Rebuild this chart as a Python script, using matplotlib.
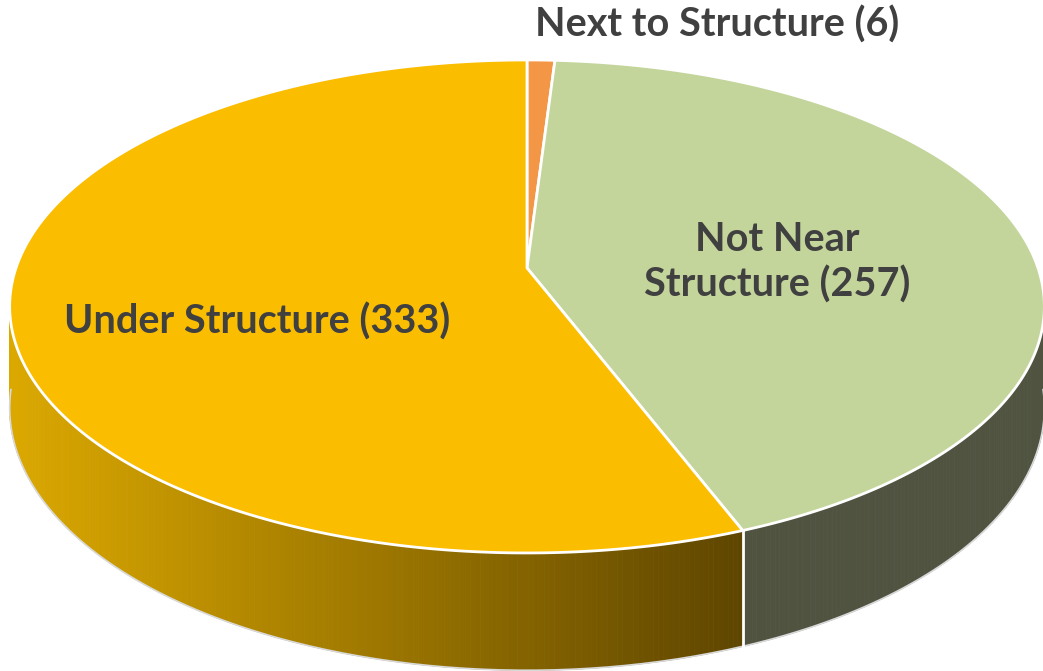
import numpy as np
import matplotlib.pyplot as plt
import matplotlib.colors as mcolors
from matplotlib.patches import Polygon

# datos del grafico
categorias = ["Next to Structure", "Not Near Structure", "Under Structure"]
valores = [6, 257, 333]
etiquetas = ["Next to Structure (6)", "Not Near\nStructure (257)", "Under Structure (333)"]
colores_top = ["#F39646", "#C3D59B", "#FABD00"]
# color de la pared: (izquierda, derecha) del degradado
colores_pared = [("#B86A2A", "#B86A2A"), ("#515541", "#4F5340"), ("#DBA800", "#5E4500")]

# geometria del pastel 3D (coordenadas en pixeles)
CX, CY = 527, 268
A, B, K, H = 511, 240.5, 0.156, 99


def proyectar(theta, h=0.0):
    t = np.radians(theta)
    d = 1 + K * np.cos(t)
    x = CX + A * np.sin(t) / d
    y = CY + (-B * np.cos(t) + H * h) / d
    return x, y


def main():
    fig = plt.figure(figsize=(10.43, 6.71), dpi=100)
    ax = fig.add_axes([0, 0, 1, 1])
    ax.set_xlim(0, 1043)
    ax.set_ylim(671, 0)
    ax.axis("off")

    total = sum(valores)
    angulos = np.concatenate([[0], np.cumsum(valores) / total * 360])

    # paredes laterales, de atras hacia adelante
    segmentos = []
    for i in range(len(valores)):
        a0, a1 = angulos[i], angulos[i + 1]
        n = max(2, int((a1 - a0) / 0.5))
        ts = np.linspace(a0, a1, n + 1)
        for t0, t1 in zip(ts[:-1], ts[1:]):
            segmentos.append((np.cos(np.radians((t0 + t1) / 2)), i, t0, t1))
    segmentos.sort(key=lambda s: -s[0])

    for z, i, t0, t1 in segmentos:
        xa, ya = proyectar(t0)
        xb, yb = proyectar(t1)
        xc, yc = proyectar(t1, 1)
        xd, yd = proyectar(t0, 1)
        c_izq = np.array(mcolors.to_rgb(colores_pared[i][0]))
        c_der = np.array(mcolors.to_rgb(colores_pared[i][1]))
        f = np.clip(((xa + xb) / 2 - 15) / (745 - 15), 0, 1)
        color = c_izq + (c_der - c_izq) * f
        ax.add_patch(Polygon([(xa, ya), (xb, yb), (xc, yc), (xd, yd)],
                             closed=True, facecolor=color, edgecolor=color, lw=0.6))

    # contorno inferior
    tb = np.linspace(95, 265, 300)
    xb, yb = proyectar(tb, 1)
    ax.plot(xb, yb, color="#D9D9D9", lw=1.2)

    # separaciones en la pared
    for a in angulos:
        if np.cos(np.radians(a)) < 0:
            x0, y0 = proyectar(a)
            x1, y1 = proyectar(a, 1)
            ax.plot([x0, x1], [y0, y1], color="white", lw=2)

    # cara superior
    for i in range(len(valores)):
        ts = np.linspace(angulos[i], angulos[i + 1], 400)
        xs, ys = proyectar(ts)
        pts = [(CX, CY)] + list(zip(xs, ys))
        ax.add_patch(Polygon(pts, closed=True, facecolor=colores_top[i],
                             edgecolor="white", lw=2, joinstyle="round"))

    estilo = dict(color="#404040", fontweight="bold", fontsize=28.5,
                  family=["Lato", "DejaVu Sans"], ha="center", va="center",
                  linespacing=1.25)
    ax.text(717, 25, etiquetas[0], **estilo)
    ax.text(777, 262, etiquetas[1], **estilo)
    ax.text(257, 322, etiquetas[2], **estilo)

    fig.savefig("out.png", dpi=100)


if __name__ == "__main__":
    main()
